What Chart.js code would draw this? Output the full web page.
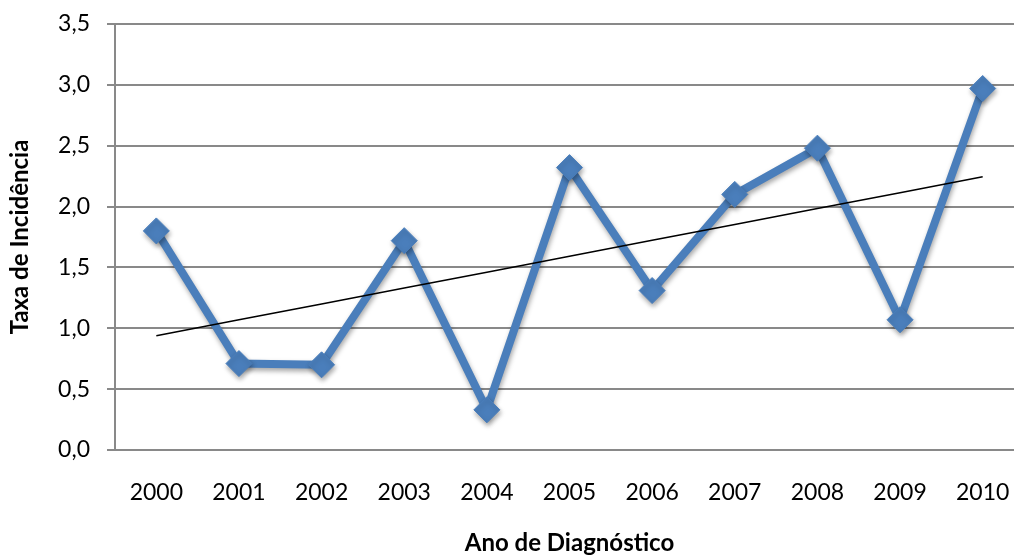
<!DOCTYPE html>
<html>
<head>
<meta charset="utf-8">
<script src="https://cdn.jsdelivr.net/npm/chart.js@4"></script>
<style>
  html, body { margin: 0; padding: 0; background: #fff; overflow: hidden; }
  #wrap { width: 1039px; height: 558px; }
</style>
</head>
<body>
<div id="wrap"><canvas id="c" width="1039" height="558"></canvas></div>
<script>
const years = ['2000','2001','2002','2003','2004','2005','2006','2007','2008','2009','2010'];
const taxa = [1.80, 0.71, 0.70, 1.72, 0.33, 2.32, 1.31, 2.10, 2.48, 1.07, 2.97];
const yTickLabels = ['0,0','0,5','1,0','1,5','2,0','2,5','3,0','3,5'];
const xTitle = 'Ano de Diagnóstico';
const yTitle = 'Taxa de Incidência';

// linear trendline (least squares), as Excel draws it
const n = taxa.length;
const mx = (n - 1) / 2;
const my = taxa.reduce((a, b) => a + b, 0) / n;
let sxy = 0, sxx = 0;
taxa.forEach((v, i) => { sxy += (i - mx) * (v - my); sxx += (i - mx) * (i - mx); });
const slope = sxy / sxx;
const trend = taxa.map((v, i) => my + slope * (i - mx));

const shadowPlugin = {
  id: 'shadow',
  beforeDatasetDraw(chart, args) {
    if (args.index === 0) {
      const ctx = chart.ctx;
      ctx.save();
      ctx.shadowColor = 'rgba(0,0,0,0.35)';
      ctx.shadowBlur = 5;
      ctx.shadowOffsetX = 1;
      ctx.shadowOffsetY = 3;
    }
  },
  afterDatasetDraw(chart, args) {
    if (args.index === 0) chart.ctx.restore();
  }
};

const gridColor = '#898989';
new Chart(document.getElementById('c'), {
  type: 'line',
  data: {
    labels: years,
    datasets: [
      {
        data: taxa,
        borderColor: '#4A7EBB',
        backgroundColor: '#4A7EBB',
        borderWidth: 8,
        pointStyle: 'rectRot',
        pointRadius: 13,
        pointBorderWidth: 1,
        pointBackgroundColor: '#4A7EBB',
        pointBorderColor: '#4A7EBB',
        tension: 0,
        order: 2
      },
      {
        data: trend,
        borderColor: '#000000',
        borderWidth: 1.5,
        pointRadius: 0,
        tension: 0,
        order: 1
      }
    ]
  },
  options: {
    responsive: false,
    animation: false,
    events: [],
    layout: { padding: { top: 24, right: 0, left: 0, bottom: 0 } },
    plugins: { legend: { display: false }, tooltip: { enabled: false } },
    scales: {
      x: {
        offset: true,
        grid: { display: false, drawTicks: false },
        border: { display: true, color: gridColor, width: 2 },
        ticks: {
          color: '#000',
          font: { family: 'Lato', size: 23 },
          padding: 29,
          maxRotation: 0
        },
        title: {
          display: true,
          text: xTitle,
          color: '#000',
          font: { family: 'Lato', size: 24, weight: 'bold' },
          padding: { top: 0, bottom: 0 }
        },
        afterFit(s) { s.height = 108; }
      },
      y: {
        min: 0,
        max: 3.5,
        grid: { color: gridColor, lineWidth: 2, tickLength: 8, drawTicks: true },
        border: { display: true, color: gridColor, width: 2 },
        ticks: {
          stepSize: 0.5,
          color: '#000',
          font: { family: 'Lato', size: 23 },
          padding: 17,
          callback: (v) => yTickLabels[Math.round(v / 0.5)]
        },
        title: {
          display: true,
          text: yTitle,
          color: '#000',
          font: { family: 'Lato', size: 24, weight: 'bold' },
          padding: { top: 6, bottom: 0 }
        },
        afterFit(s) { s.width = 115; s.paddingTop = 0; s.paddingBottom = 0; }
      }
    }
  },
  plugins: [shadowPlugin]
});
</script>
</body>
</html>
